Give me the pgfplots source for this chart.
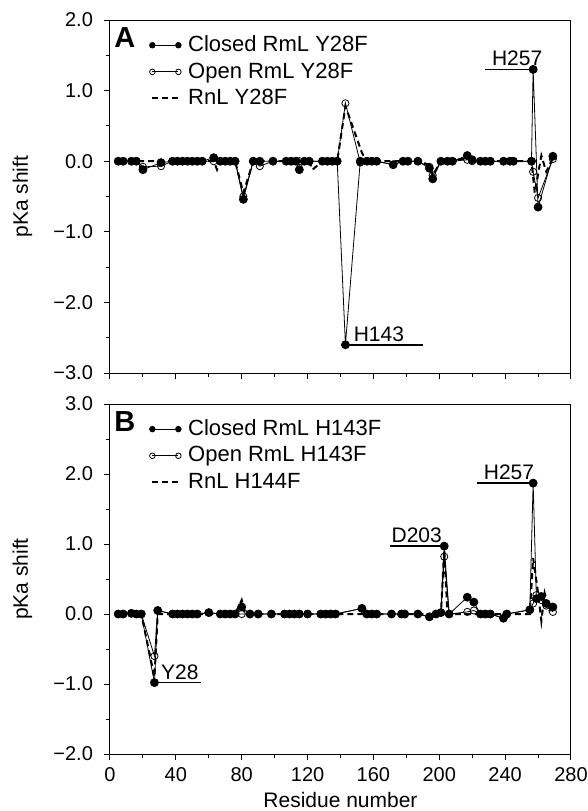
\documentclass[border=0pt]{standalone}
\usepackage{fontspec}
\setmainfont{Liberation Sans}
\usepackage{pgfplots}
\pgfplotsset{compat=1.18}

\tikzset{lab/.style={anchor=south west, inner sep=1.5pt, font=\fontsize{10.5}{12}\selectfont}}
\pgfplotsset{
  panel/.style={
    scale only axis, width=230.5pt,
    xmin=0, xmax=280, xtick={0,40,...,280}, minor x tick num=1,
    tick align=outside, xtick pos=bottom, ytick pos=left,
    major tick length=3pt, minor tick length=2pt,
    tick style={black, line width=0.5pt},
    axis line style={line width=0.5pt},
    minor y tick num=1,
    tick label style={font=\fontsize{10}{11}\selectfont},
    yticklabel style={xshift=-2pt},
    label style={font=\fontsize{10.5}{12}\selectfont},
    ylabel={pKa shift},
    ylabel style={at={(axis description cs:-0.19,0.5)}, anchor=center},
    clip=false,
    legend cell align=left,
    legend style={draw=none, fill=none, anchor=north west,
      at={(axis description cs:0.085,0.965)}, inner sep=0pt,
      row sep=1pt, font=\fontsize{11}{12.5}\selectfont,
      nodes={inner sep=1.5pt},
      /tikz/every odd column/.append style={column sep=2pt}},
    legend image code/.code={\draw[#1,mark size=1.4pt] plot coordinates {(0pt,0pt) (13pt,0pt)};},
  },
  closed/.style={black, line width=0.4pt, mark=*, mark size=2pt, mark options={solid, fill=black}},
  open/.style={black, line width=0.4pt, mark=o, mark size=1.8pt, mark options={solid, fill=white}},
  rnl/.style={black, line width=1pt, dash pattern=on 3pt off 2pt, mark=none},
}

\begin{document}
\begin{tikzpicture}
% panel A
\begin{axis}[panel, height=176.5pt, at={(0,0)}, anchor=south west,
  ymin=-3, ymax=2, ytick={-3,-2,-1,0,1,2},
  yticklabels={−3.0,−2.0,−1.0,0.0,1.0,2.0}, xticklabels={}]
\addlegendimage{closed}
\addlegendimage{open}
\addlegendimage{rnl}
\legend{Closed RmL Y28F, Open RmL Y28F, RnL Y28F}
\addplot[rnl, forget plot] coordinates {
 (5,0) (20,0) (31,0) (56,0) (63,0) (65,-0.12) (67,0) (76,0) (81,-0.45) (87,0)
 (121,0) (123,-0.12) (129,0) (138,0) (143,0.78) (153,0.12) (156,0) (187,0)
 (194,-0.05) (196,-0.2) (201,0) (217,0.04) (220,0) (256,0) (258,-0.45)
 (262,0.08) (265,-0.15) (269,0.05)
};
\addplot[open, forget plot] coordinates {
 (5,0) (8,0) (13,0) (16,0) (20,-0.08) (31,-0.07) (38,0) (41,0) (44,0) (47,0)
 (50,0) (53,0) (56,0) (63,0) (67,0) (70,0) (73,0) (76,0) (81,-0.5) (87,0)
 (91,-0.07) (99,0) (107,0) (110,0) (113,0) (115,0) (118,0) (121,0) (129,0)
 (132,0) (135,0) (138,0) (143,0.82) (152,-0.02) (156,0) (159,0) (162,0)
 (172,-0.05) (178,0) (181,0) (187,0) (194,-0.08) (196,-0.2) (201,0) (205,0)
 (208,0) (217,0.02) (220,0) (225,0) (228,0) (231,0) (239,0) (243,0) (245,0)
 (256,0) (257,-0.15) (260,-0.52) (269,0.03)
};
\addplot[closed, forget plot] coordinates {
 (5,0) (8,0) (13,0) (16,0) (20,-0.12) (31,-0.02) (38,0) (41,0) (44,0) (47,0)
 (50,0) (53,0) (56,0) (63,0.05) (67,0) (70,0) (73,0) (76,0) (81,-0.54) (87,0)
 (91,0) (99,0) (107,0) (110,0) (113,0) (115,-0.12) (118,0) (121,0) (129,0)
 (132,0) (135,0) (138,0) (143,-2.6) (152,0) (156,0) (159,0) (162,0)
 (172,-0.05) (178,0) (181,0) (187,0) (194,-0.1) (196,-0.25) (201,0) (205,0)
 (208,0) (217,0.08) (220,0.02) (225,0) (228,0) (231,0) (239,0) (243,0) (245,0)
 (256,0) (257,1.3) (260,-0.65) (269,0.07)
};
\draw[line width=0.75pt] (axis cs:143,-2.6) -- (axis cs:190,-2.6);
\node[lab] at (axis cs:146,-2.6) {H143};
\draw[line width=0.75pt] (axis cs:228,1.3) -- (axis cs:257,1.3);
\node[lab] at (axis cs:230,1.3) {H257};
\node[anchor=north west, inner sep=0pt, font=\bfseries\fontsize{14.5}{15}\selectfont]
  at (rel axis cs:0,1) [xshift=2pt, yshift=-3.5pt] {A};
\end{axis}

% panel B
\begin{axis}[panel, height=175pt, at={(0,-190.5pt)}, anchor=south west,
  ymin=-2, ymax=3, ytick={-2,-1,0,1,2,3},
  yticklabels={−2.0,−1.0,0.0,1.0,2.0,3.0},
  xticklabels={0,40,80,120,160,200,240,280},
  xlabel={Residue number},
  xlabel style={at={(axis description cs:0.5,0)}, yshift=-23pt, anchor=center}]
\addlegendimage{closed}
\addlegendimage{open}
\addlegendimage{rnl}
\legend{Closed RmL H143F, Open RmL H143F, RnL H144F}
\addplot[rnl, forget plot] coordinates {
 (5,0) (19,0) (27,-0.9) (29,0) (76,0) (80,0.2) (82,0) (201,0) (203,0.92)
 (205,0) (255,0) (257,0.8) (260,0.3) (262,-0.1) (264,0.3) (267,0.05) (269,0.1)
};
\addplot[open, forget plot] coordinates {
 (5,0) (8,0) (13,0.01) (16,0) (19,0) (27,-0.6) (29,0.05) (38,0) (41,0) (44,0)
 (47,0) (50,0) (53,0) (60,0.02) (67,0) (70,0) (73,0) (76,0) (80,0) (85,0)
 (90,0) (98,0) (106,0) (109,0) (112,0) (115,0) (120,0) (128,0) (131,0)
 (134,0) (137,0) (153,0.08) (156,0) (159,0) (162,0) (171,0) (177,0) (179,0)
 (187,0) (194,-0.04) (198,0) (201,0.02) (203,0.82) (206,0) (217,0.03)
 (221,0.05) (225,0) (228,0) (231,0) (239,-0.06) (241,0) (255,0.06)
 (257,0.15) (259,0.27) (262,0.2) (265,0.12) (269,0.03)
};
\addplot[closed, forget plot] coordinates {
 (5,0) (8,0) (13,0.01) (16,0) (19,0) (27,-0.98) (29,0.05) (38,0) (41,0) (44,0)
 (47,0) (50,0) (53,0) (60,0.02) (67,0) (70,0) (73,0) (76,0) (80,0.1) (85,0)
 (90,0) (98,0) (106,0) (109,0) (112,0) (115,0) (120,0) (128,0) (131,0)
 (134,0) (137,0) (153,0.08) (156,0) (159,0) (162,0) (171,0) (177,0) (179,0)
 (187,0) (194,-0.04) (198,0) (201,0.02) (203,0.97) (206,0) (217,0.24)
 (221,0.17) (225,0) (228,0) (231,0) (239,-0.06) (241,0) (255,0.06)
 (257,1.87) (259,0.22) (262,0.25) (265,0.15) (269,0.1)
};
\draw[line width=0.75pt] (axis cs:27,-0.98) -- (axis cs:55,-0.98);
\node[lab] at (axis cs:29,-0.98) {Y28};
\draw[line width=0.75pt] (axis cs:170,0.97) -- (axis cs:203,0.97);
\node[lab] at (axis cs:169,0.97) {D203};
\draw[line width=0.75pt] (axis cs:223,1.87) -- (axis cs:257,1.87);
\node[lab] at (axis cs:225,1.87) {H257};
\node[anchor=north west, inner sep=0pt, font=\bfseries\fontsize{14.5}{15}\selectfont]
  at (rel axis cs:0,1) [xshift=2pt, yshift=-3.5pt] {B};
\end{axis}
\pgfresetboundingbox
\useasboundingbox (-55pt,-219pt) rectangle (239pt,186.5pt);
\end{tikzpicture}
\end{document}
